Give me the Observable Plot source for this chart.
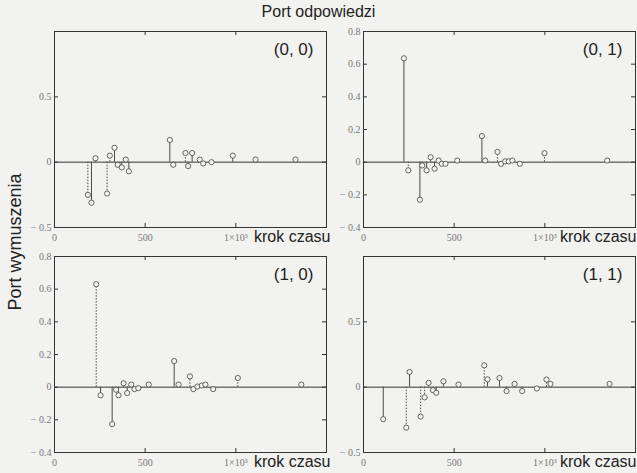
<!DOCTYPE html>
<html><head><meta charset="utf-8">
<script src="https://cdn.jsdelivr.net/npm/d3@7"></script>
<script src="https://cdn.jsdelivr.net/npm/@observablehq/plot@0.6"></script>
<style>
body{margin:0;background:#f2f2f0;width:637px;height:473px;overflow:hidden;position:relative;font-family:Arial,"Liberation Sans",sans-serif;}
#title{position:absolute;left:0;width:637px;top:3px;text-align:center;font-size:16px;color:#222}
#ylab{position:absolute;left:15px;top:242px;transform:translate(-50%,-50%) rotate(-90deg);font-size:18px;white-space:nowrap;color:#222}
.panel{position:absolute}
</style></head><body>
<div id="title">Port odpowiedzi</div>
<div id="ylab">Port wymuszenia</div>
<script>
// Panel (0, 0)
const t00 = [184,204,226,290,305,331,349,371,393,410,636,655,722,737,759,801,820,866,983,1109,1329];
const v00 = [-0.25,-0.31,0.03,-0.24,0.05,0.11,-0.02,-0.04,0.02,-0.07,0.17,-0.02,0.07,-0.03,0.07,0.02,-0.01,0.0,0.05,0.02,0.02];
const s00 = ["b","a","a","b","b","a","a","a","a","a","a","a","b","a","a","a","a","a","a","a","a"];
// Panel (0, 1)
const t01 = [223,247,311,324,348,370,392,414,432,452,517,653,671,739,759,781,801,821,862,998,1344];
const v01 = [0.636,-0.05,-0.23,-0.02,-0.05,0.03,-0.04,0.01,-0.01,-0.01,0.01,0.16,0.01,0.063,-0.01,0.005,0.005,0.01,-0.01,0.055,0.01];
const s01 = ["a","b","a","a","a","a","a","a","a","a","a","a","a","b","a","a","a","a","a","b","a"];
// Panel (1, 0)
const t10 = [230,254,318,340,353,381,401,423,441,462,520,660,684,747,766,788,812,832,875,1011,1361];
const v10 = [0.63,-0.05,-0.226,-0.016,-0.05,0.024,-0.036,0.016,-0.012,-0.006,0.016,0.16,0.016,0.066,-0.012,0.004,0.01,0.016,-0.012,0.056,0.016];
const s10 = ["b","a","a","a","a","a","a","a","a","a","a","a","a","b","a","a","a","a","a","b","a"];
// Panel (1, 1)
const t11 = [109,236,254,315,337,359,383,401,441,524,666,684,750,789,833,875,956,1009,1031,1357];
const v11 = [-0.245,-0.31,0.116,-0.225,-0.078,0.033,-0.023,-0.043,0.045,0.02,0.167,0.06,0.07,-0.03,0.025,-0.03,-0.01,0.058,0.025,0.025];
const s11 = ["a","b","a","b","b","a","a","a","a","a","b","a","a","a","a","a","a","b","a","a"];

const panelLabels = ["(0, 0)", "(0, 1)", "(1, 0)", "(1, 1)"];
const xTicks = [0, 500, 1000];
const xInnerTicks = [500, 1000];
const yTicksA = [-0.5, 0, 0.5];
const yTicksB = [-0.4, -0.2, 0, 0.2, 0.4, 0.6, 0.8];
const xLabel = "krok czasu";

const BG = "#f2f2f0";
const FW = 272, FH = 196, TICK = 4;
const fmtY = d => d === 0 ? "0" : (d < 0 ? "\u2212 " + Math.abs(d) : String(d));
const fmtX = d => d === 1000 ? "1\u00d710\u00b3" : String(d);
const sans = "Arial, 'Liberation Sans', sans-serif";

function panel(t, v, s, label, yDomain, yTicks, left, top, width, labelDx) {
  const data = t.map((d, i) => ({t: d, v: v[i], s: s[i]}));
  const mr = width - 54 - FW;
  const svg = Plot.plot({
    width, height: 230,
    marginLeft: 54, marginRight: mr, marginTop: 10, marginBottom: 24,
    style: {background: "transparent", fontFamily: "'Liberation Serif', serif", overflow: "visible"},
    x: {domain: [0, 1500]},
    y: {domain: yDomain},
    marks: [
      Plot.ruleY([0], {stroke: "#333", strokeWidth: 1}),
      Plot.ruleX(data.filter(d => d.s === "a"), {x: "t", y1: 0, y2: "v", stroke: "#4a4a4a", strokeWidth: 1}),
      Plot.ruleX(data.filter(d => d.s === "b"), {x: "t", y1: 0, y2: "v", stroke: "#4a4a4a", strokeWidth: 1, strokeDasharray: "1.5,1.5"}),
      Plot.dot(data, {x: "t", y: "v", r: 2.6, stroke: "#555", strokeWidth: 0.9, fill: BG}),
      Plot.frame({stroke: "#333", strokeWidth: 1}),
      // inward tick marks on all four sides
      Plot.ruleY(yTicks, {y: d => d, insetRight: FW - TICK, stroke: "#333"}),
      Plot.ruleY(yTicks, {y: d => d, insetLeft: FW - TICK, stroke: "#333"}),
      Plot.ruleX(xInnerTicks, {x: d => d, insetTop: FH - TICK, stroke: "#333"}),
      Plot.ruleX(xInnerTicks, {x: d => d, insetBottom: FH - TICK, stroke: "#333"}),
      Plot.axisY({ticks: yTicks, tickSize: 0, tickPadding: 3, tickFormat: fmtY, fontSize: 10, color: "#777", label: null}),
      Plot.axisX({ticks: xTicks, tickSize: 0, tickPadding: 6, tickFormat: fmtX, fontSize: 10, color: "#777", label: null}),
      Plot.text([xLabel], {frameAnchor: "bottom-right", dx: labelDx, dy: 3, lineAnchor: "top", textAnchor: "end", fontSize: 16, fontFamily: sans, fill: "#222"}),
      Plot.text([label], {frameAnchor: "top-right", dx: -13, dy: 11, lineAnchor: "top", textAnchor: "end", fontSize: 17, fontFamily: sans, fill: "#222"})
    ]
  });
  svg.classList.add("panel");
  svg.style.left = left + "px";
  svg.style.top = top + "px";
  document.body.appendChild(svg);
}

panel(t00, v00, s00, panelLabels[0], [-0.5, 1.0], yTicksA, 0, 21, 330, 4);
panel(t01, v01, s01, panelLabels[1], [-0.4, 0.8], yTicksB, 309, 21, 328, 1);
panel(t10, v10, s10, panelLabels[2], [-0.4, 0.8], yTicksB, 0, 246, 330, 4);
panel(t11, v11, s11, panelLabels[3], [-0.5, 1.0], yTicksA, 309, 246, 328, 1);
</script>
</body></html>
